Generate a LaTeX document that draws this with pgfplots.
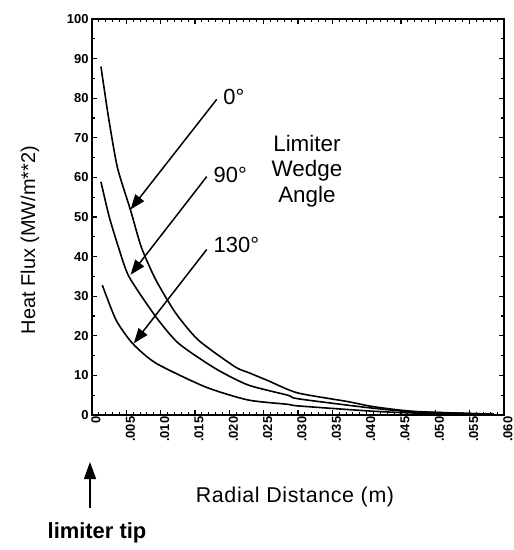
\documentclass[border=0pt]{standalone}
\usepackage{fontspec}
\setmainfont{Liberation Sans}
\newfontfamily\spaced[LetterSpace=3]{Liberation Sans}
\usepackage{pgfplots}
\pgfplotsset{compat=1.18}
\usetikzlibrary{arrows.meta}

\begin{document}
\begin{tikzpicture}
\useasboundingbox (-92bp,-135bp) rectangle (422bp,415bp);
\begin{axis}[
  at={(0,0)}, anchor=south west,
  scale only axis, width=412bp, height=396bp,
  xmin=0, xmax=0.06, ymin=0, ymax=100,
  axis line style={line width=1.6bp},
  xtick={0,0.005,0.01,0.015,0.02,0.025,0.03,0.035,0.04,0.045,0.05,0.055,0.06},
  xticklabels={0,.005,.010,.015,.020,.025,.030,.035,.040,.045,.050,.055,.060},
  scaled x ticks=false,
  minor x tick num=4,
  ytick={0,10,20,30,40,50,60,70,80,90,100},
  minor y tick num=1,
  tick align=inside,
  major tick length=5bp, minor tick length=3bp,
  tick style={line width=1.1bp, black},
  xticklabel style={rotate=90, anchor=east, yshift=-4bp, inner sep=1.5bp, font=\fontsize{13}{13}\selectfont\bfseries},
  yticklabel style={font=\fontsize{13}{13}\selectfont\bfseries},
  /pgf/number format/assume math mode=true,
  clip=false,
]
\addplot[black, line width=1.6bp, smooth, tension=0.4] coordinates {
 (0.0013,88) (0.0024,75.2) (0.0037,62.5) (0.0056,51.8) (0.0072,42.3) (0.0093,34.1)
 (0.0122,25.7) (0.0155,18.9) (0.0208,12.2) (0.0228,10.7) (0.0256,8.7) (0.0299,5.6)
 (0.0372,3.4) (0.0410,2.1) (0.047,0.9) (0.0585,0.2)};
\addplot[black, line width=1.6bp, smooth, tension=0.4] coordinates {
 (0.0013,58.9) (0.0025,50.1) (0.0039,42.1) (0.0054,34.9) (0.0093,24.8) (0.0126,18.1)
 (0.0179,11.8) (0.0227,7.6) (0.0285,5.0) (0.0300,4.1) (0.0405,1.8) (0.047,0.8) (0.0585,0.2)};
\addplot[black, line width=1.6bp, smooth, tension=0.4] coordinates {
 (0.0015,32.8) (0.0035,24.0) (0.0059,18.1) (0.0093,13.1) (0.0165,7.1) (0.0227,3.8)
 (0.0285,2.7) (0.0300,2.3) (0.0405,1.0) (0.047,0.5) (0.0585,0.2)};

\draw[line width=1.5bp, -{Triangle[length=15bp,width=11bp]}] (axis cs:0.01816,79.7) -- (axis cs:0.00561,51.9);
\draw[line width=1.5bp, -{Triangle[length=15bp,width=11bp]}] (axis cs:0.01671,60.2) -- (axis cs:0.00561,35.4);
\draw[line width=1.5bp, -{Triangle[length=15bp,width=11bp]}] (axis cs:0.01671,41.8) -- (axis cs:0.00609,18.1);

\node[anchor=west, inner sep=0pt, font=\fontsize{22}{22}\selectfont] at (axis cs:0.0191,80.4) {0°};
\node[anchor=west, inner sep=0pt, font=\fontsize{22}{22}\selectfont] at (axis cs:0.0177,60.6) {90°};
\node[anchor=west, inner sep=0pt, font=\fontsize{22}{22}\selectfont] at (axis cs:0.0177,42.9) {130°};
\node[align=center, inner sep=0pt, font=\fontsize{22.5}{25.8}\selectfont] at (axis cs:0.0313,61.6) {Limiter\\Wedge\\Angle};
\end{axis}
\node[rotate=90, font=\fontsize{20}{20}\selectfont] at (-62bp,175bp) {Heat Flux (MW/m**2)};
\node[font=\fontsize{21.5}{21.5}\selectfont] at (203bp,-82bp) {\spaced Radial Distance (m)};
\draw[line width=1.5bp, -{Triangle[length=17bp,width=12bp]}] (-2bp,-93bp) -- (-2bp,-47bp);
\node[font=\fontsize{22}{22}\selectfont\bfseries] at (5bp,-118bp) {limiter tip};
\end{tikzpicture}
\end{document}
